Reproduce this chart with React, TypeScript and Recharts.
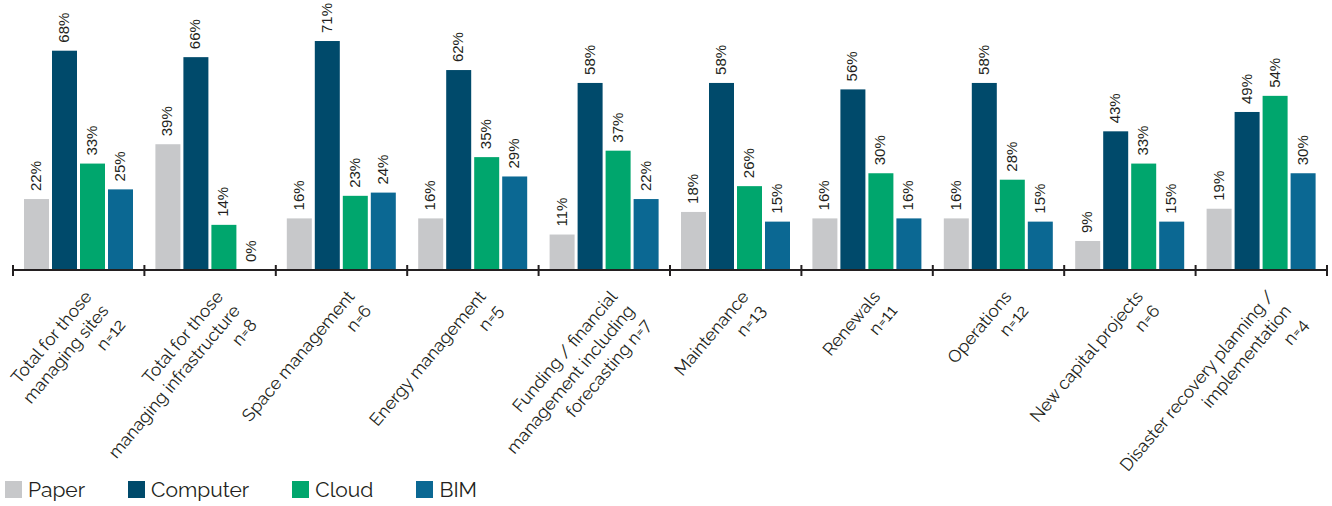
import { BarChart, Bar, XAxis, YAxis, Legend } from "recharts";

const categories = [
  "Total for those\nmanaging sites\nn=12",
  "Total for those\nmanaging infrastructure\nn=8",
  "Space management\nn=6",
  "Energy management\nn=5",
  "Funding / financial\nmanagement including\nforecasting n=7",
  "Maintenance\nn=13",
  "Renewals\nn=11",
  "Operations\nn=12",
  "New capital projects\nn=6",
  "Disaster recovery planning /\nimplementation\nn=4",
];

const paper = [22, 39, 16, 16, 11, 18, 16, 16, 9, 19];
const computer = [68, 66, 71, 62, 58, 58, 56, 58, 43, 49];
const cloud = [33, 14, 23, 35, 37, 26, 30, 28, 33, 54];
const bim = [25, 0, 24, 29, 22, 15, 16, 15, 15, 30];

const seriesNames = ["Paper", "Computer", "Cloud", "BIM"];
const colors: Record<string, string> = {
  Paper: "#c7c8ca",
  Computer: "#004a6b",
  Cloud: "#00a66d",
  BIM: "#0b6893",
};

const chartData = categories.map((name, i) => ({
  name,
  Paper: paper[i],
  Computer: computer[i],
  Cloud: cloud[i],
  BIM: bim[i],
}));

const FONT = "Raleway, 'Open Sans', sans-serif";
const NUM_FONT = "'Liberation Sans', Arial, sans-serif";
const TEXT = "#231f20";
const WIDTH = 1332;
const HEIGHT = 506;
const MARGIN = { top: 12, right: 5, bottom: 0, left: 13 };
const BAND = (WIDTH - MARGIN.left - MARGIN.right) / categories.length;

const CategoryTick = (props: any) => {
  const { x, y, payload, index } = props;
  const axisY = y - 8;
  const half = BAND / 2;
  const lines = String(payload.value).split("\n");
  const tx = x + 14;
  const ty = axisY + 27;
  return (
    <g>
      <line x1={x - half} x2={x - half} y1={axisY - 5} y2={axisY + 6} stroke={TEXT} strokeWidth={2} />
      {index === categories.length - 1 && (
        <line x1={x + half} x2={x + half} y1={axisY - 5} y2={axisY + 6} stroke={TEXT} strokeWidth={2} />
      )}
      <text
        x={tx}
        y={ty}
        transform={`rotate(-50, ${tx}, ${ty})`}
        textAnchor="end"
        fontSize={17.5}
        fontFamily={FONT}
        fill={TEXT}
      >
        {lines.map((l, i) => (
          <tspan key={i} x={tx} dy={i === 0 ? 0 : 22}>
            {l}
          </tspan>
        ))}
      </text>
    </g>
  );
};

// bar rectangle plus its rotated value label (drawn even when the value is 0)
const BarWithLabel = (props: any) => {
  const { x, y, width, height, fill, payload, series } = props;
  const value = payload[series];
  const cx = x + width / 2 + 4.5;
  const cy = y - 8;
  return (
    <g>
      {height > 0 && <rect x={x} y={y} width={width} height={height} fill={fill} />}
      <text
        x={cx}
        y={cy}
        transform={`rotate(-90, ${cx}, ${cy})`}
        textAnchor="start"
        fontSize={15}
        fontFamily={NUM_FONT}
        fill={TEXT}
      >
        {value}%
      </text>
    </g>
  );
};

const LegendContent = () => (
  <div style={{ display: "flex", alignItems: "center", fontFamily: FONT, fontSize: 21, color: TEXT }}>
    {seriesNames.map((s) => (
      <div key={s} style={{ display: "flex", alignItems: "center", marginRight: 43 }}>
        <span style={{ display: "inline-block", width: 17, height: 17, background: colors[s], marginRight: 6 }} />
        {s}
      </div>
    ))}
  </div>
);

const App = () => {
  return (
    <div style={{ position: "absolute", left: 0, top: 0, background: "#fff" }}>
      <BarChart width={WIDTH} height={HEIGHT} data={chartData} margin={MARGIN} barSize={25} barGap={3}>
        <XAxis
          dataKey="name"
          height={236}
          interval={0}
          tickLine={false}
          axisLine={{ stroke: TEXT, strokeWidth: 2 }}
          tick={<CategoryTick />}
        />
        <YAxis hide domain={[0, 80]} />
        <Legend
          layout="horizontal"
          verticalAlign="middle"
          align="center"
          content={<LegendContent />}
          wrapperStyle={{ left: 5, top: 477, width: 700, height: 28 }}
        />
        {seriesNames.map((s) => (
          <Bar
            key={s}
            dataKey={s}
            fill={colors[s]}
            isAnimationActive={false}
            shape={(p: any) => <BarWithLabel {...p} series={s} />}
          />
        ))}
      </BarChart>
    </div>
  );
};

export default App;
